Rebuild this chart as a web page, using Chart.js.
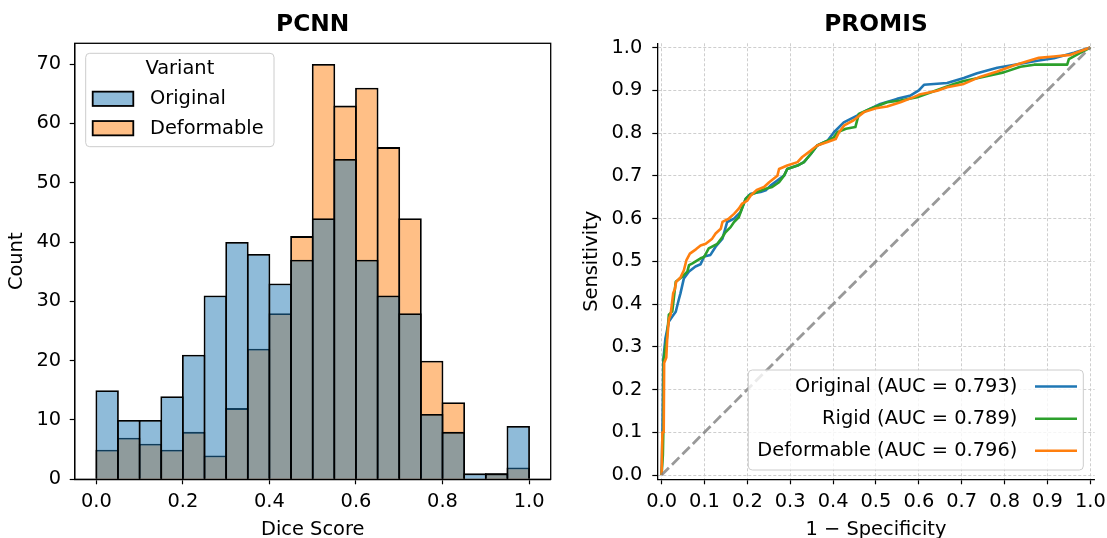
<!DOCTYPE html>
<html>
<head>
<meta charset="utf-8">
<script src="https://cdn.jsdelivr.net/npm/chart.js@4.4.0/dist/chart.umd.min.js"></script>
<style>
html,body{margin:0;padding:0;background:#fff;}
#wrap{position:relative;width:1107px;height:538px;overflow:hidden;background:#fff;}
#c1{position:absolute;left:0;top:0;width:560px;height:538px;}
#c2{position:absolute;left:560px;top:0;width:547px;height:538px;}
</style>
</head>
<body>
<div id="wrap">
<canvas id="c1" width="560" height="538"></canvas>
<canvas id="c2" width="547" height="538"></canvas>
</div>
<script>
// ---------------- data: left panel (histogram) ----------------
const histBinCenters = [0.025,0.075,0.125,0.175,0.225,0.275,0.325,0.375,0.425,0.475,0.525,0.575,0.625,0.675,0.725,0.775,0.825,0.875,0.925,0.975];
const histOriginal   = [15,10,10,14,21,31,40,38,33,37,44,54,37,31,28,11,8,1,1,9];
const histDeformable = [5,7,6,5,8,4,12,22,28,41,70,63,66,56,44,20,13,0,1,2];
const histSeriesNames = ['Original','Deformable'];
const histXTickValues = [0,0.2,0.4,0.6,0.8,1.0];
const histXTickLabels = ['0.0','0.2','0.4','0.6','0.8','1.0'];
const histYTickValues = [0,10,20,30,40,50,60,70];
const histYTickLabels = ['0','10','20','30','40','50','60','70'];

// ---------------- data: right panel (ROC) ----------------
const rocTickValues = [0,0.1,0.2,0.3,0.4,0.5,0.6,0.7,0.8,0.9,1.0];
const rocTickLabels = ['0.0','0.1','0.2','0.3','0.4','0.5','0.6','0.7','0.8','0.9','1.0'];
const rocNames = ['Original (AUC = 0.793)','Rigid (AUC = 0.789)','Deformable (AUC = 0.796)'];

const rocOriginalFpr = [0,0.002,0.004,0.009,0.013,0.017,0.025,0.033,0.040,0.044,0.052,0.064,0.079,0.091,0.099,0.114,0.126,0.142,0.153,0.169,0.184,0.196,0.208,0.231,0.243,0.254,0.270,0.286,0.293,0.317,0.332,0.348,0.363,0.387,0.402,0.425,0.456,0.479,0.510,0.549,0.581,0.600,0.612,0.666,0.705,0.736,0.783,0.837,0.876,0.915,0.962,1.0];
const rocOriginalTpr = [0,0.100,0.270,0.320,0.340,0.359,0.371,0.382,0.410,0.425,0.460,0.476,0.488,0.493,0.511,0.515,0.534,0.553,0.592,0.600,0.615,0.646,0.658,0.662,0.666,0.677,0.689,0.701,0.716,0.724,0.732,0.751,0.771,0.782,0.802,0.825,0.841,0.853,0.868,0.880,0.888,0.900,0.913,0.917,0.929,0.940,0.953,0.962,0.969,0.975,0.988,1.0];

const rocRigidFpr = [0,0.003,0.004,0.005,0.009,0.012,0.017,0.025,0.033,0.048,0.060,0.064,0.072,0.091,0.099,0.110,0.130,0.142,0.149,0.161,0.169,0.180,0.196,0.204,0.223,0.243,0.258,0.274,0.286,0.293,0.317,0.332,0.348,0.363,0.387,0.402,0.410,0.430,0.452,0.460,0.487,0.526,0.557,0.596,0.627,0.682,0.705,0.744,0.798,0.837,0.869,0.946,0.950,0.970,1.0];
const rocRigidTpr = [0,0.047,0.100,0.270,0.300,0.316,0.375,0.383,0.452,0.464,0.476,0.491,0.495,0.507,0.510,0.530,0.541,0.557,0.568,0.580,0.592,0.603,0.646,0.654,0.662,0.670,0.674,0.685,0.701,0.716,0.724,0.732,0.751,0.771,0.782,0.790,0.802,0.810,0.814,0.845,0.857,0.872,0.876,0.884,0.895,0.915,0.922,0.930,0.942,0.955,0.960,0.960,0.973,0.984,1.0];

const rocDeformableFpr = [0,0.002,0.005,0.006,0.011,0.013,0.017,0.021,0.027,0.031,0.034,0.044,0.052,0.058,0.066,0.080,0.091,0.103,0.118,0.126,0.138,0.142,0.157,0.169,0.180,0.188,0.200,0.208,0.222,0.239,0.251,0.270,0.274,0.293,0.317,0.328,0.348,0.363,0.387,0.406,0.414,0.426,0.448,0.472,0.500,0.526,0.557,0.588,0.604,0.643,0.666,0.705,0.744,0.783,0.821,0.853,0.880,0.915,0.954,1.0];
const rocDeformableTpr = [0,0.100,0.100,0.262,0.275,0.317,0.365,0.375,0.425,0.435,0.452,0.462,0.479,0.503,0.518,0.528,0.537,0.541,0.553,0.565,0.576,0.592,0.600,0.611,0.623,0.635,0.642,0.654,0.667,0.674,0.685,0.700,0.716,0.724,0.732,0.744,0.759,0.771,0.779,0.786,0.802,0.818,0.830,0.849,0.858,0.862,0.872,0.884,0.891,0.899,0.907,0.915,0.932,0.944,0.958,0.968,0.976,0.979,0.983,1.0];

const chanceX = [0,1];
const chanceY = [0,1];

// ---------------- styling ----------------
const FONT = "'DejaVu Sans', sans-serif";
const BASE = 19.4;
const TITLE = 23.3;
Chart.defaults.font.family = FONT;
Chart.defaults.font.size = BASE;
Chart.defaults.color = '#000';

const C_BLUE = '#1f77b4', C_GREEN = '#2ca02c', C_ORANGE = '#ff7f0e';
const F_BLUE = 'rgba(31,119,180,0.5)', F_ORANGE = 'rgba(255,127,14,0.5)';
const EDGE = 1.8;

function pts(xs, ys){ return xs.map((x,i)=>({x:x, y:ys[i]})); }
function rr(ctx,x,y,w,h,r){
  ctx.beginPath();
  ctx.moveTo(x+r,y); ctx.lineTo(x+w-r,y); ctx.arcTo(x+w,y,x+w,y+r,r);
  ctx.lineTo(x+w,y+h-r); ctx.arcTo(x+w,y+h,x+w-r,y+h,r);
  ctx.lineTo(x+r,y+h); ctx.arcTo(x,y+h,x,y+h-r,r);
  ctx.lineTo(x,y+r); ctx.arcTo(x,y,x+r,y,r); ctx.closePath();
}
function fixTicks(values){ return function(scale){ scale.ticks = values.map(v=>({value:v})); }; }

// ---------------- left chart ----------------
const histFrame = {
  id:'histFrame',
  afterDatasetsDraw(chart){
    const {ctx, chartArea:a} = chart;
    ctx.save(); ctx.strokeStyle='#000'; ctx.lineWidth=1.3;
    ctx.strokeRect(a.left, a.top, a.right-a.left, a.bottom-a.top);
    ctx.restore();
  },
  afterDraw(chart){
    const {ctx, chartArea:a} = chart;
    const x = a.left + 11, y = a.top + 10, w = 188.3, h = 93.4;
    ctx.save();
    rr(ctx,x,y,w,h,4);
    ctx.fillStyle='rgba(255,255,255,0.8)'; ctx.fill();
    ctx.lineWidth=1; ctx.strokeStyle='#cccccc'; ctx.stroke();
    ctx.fillStyle='#000'; ctx.font = BASE+'px '+FONT; ctx.textBaseline='middle';
    ctx.textAlign='center'; ctx.fillText('Variant', x + w/2, y + 16);
    const fills = [F_BLUE, F_ORANGE];
    const rows = [45.5, 74.9];
    ctx.textAlign='left';
    for (let i=0;i<2;i++){
      const cy = y + rows[i];
      ctx.fillStyle = '#fff'; ctx.fillRect(x+7, cy-7.15, 40.6, 14.3);
      ctx.fillStyle = fills[i]; ctx.fillRect(x+7, cy-7.15, 40.6, 14.3);
      ctx.lineWidth=EDGE; ctx.strokeStyle='#000'; ctx.strokeRect(x+7, cy-7.15, 40.6, 14.3);
      ctx.fillStyle='#000'; ctx.fillText(histSeriesNames[i], x+64.3, cy+0.5);
    }
    ctx.restore();
  }
};

new Chart(document.getElementById('c1'), {
  type:'bar',
  data:{
    datasets:[
      {label:histSeriesNames[0], data:pts(histBinCenters, histOriginal), backgroundColor:F_BLUE},
      {label:histSeriesNames[1], data:pts(histBinCenters, histDeformable), backgroundColor:F_ORANGE}
    ]
  },
  options:{
    responsive:false, maintainAspectRatio:false, animation:false, devicePixelRatio:1,
    layout:{padding:{left:0, top:0, right:9.3, bottom:0}},
    datasets:{bar:{grouped:false, barPercentage:1.083, categoryPercentage:1, borderColor:'#000', borderWidth:EDGE, borderSkipped:'start'}},
    plugins:{
      legend:{display:false}, tooltip:{enabled:false},
      title:{display:true, text:'PCNN', fullSize:false, color:'#000', font:{size:TITLE, weight:'bold', lineHeight:1.2}, padding:{top:11, bottom:4.34}}
    },
    scales:{
      x:{type:'linear', min:-0.05, max:1.05, offset:false,
         afterBuildTicks:fixTicks(histXTickValues),
         afterFit(s){ s.height = 58.7; s.paddingLeft = 0; s.paddingRight = 0; },
         ticks:{callback:(v,i)=>histXTickLabels[i], padding:6, maxRotation:0, autoSkip:false, color:'#000', font:{size:BASE}},
         grid:{display:true, drawOnChartArea:false, drawTicks:true, tickLength:5, tickColor:'#000', tickWidth:1.2, offset:false},
         border:{display:true, color:'#000', width:1.3},
         title:{display:true, text:'Dice Score', color:'#000', font:{size:BASE, lineHeight:0.85}, padding:0}
      },
      y:{type:'linear', min:0, max:73.5,
         afterBuildTicks:fixTicks(histYTickValues),
         afterFit(s){ s.width = 74.7; s.paddingTop = 0; s.paddingBottom = 0; },
         ticks:{callback:(v,i)=>histYTickLabels[i], padding:8.5, autoSkip:false, color:'#000', font:{size:BASE}},
         grid:{display:true, drawOnChartArea:false, drawTicks:true, tickLength:5, tickColor:'#000', tickWidth:1.2},
         border:{display:true, color:'#000', width:1.3},
         title:{display:true, text:'Count', color:'#000', font:{size:BASE, lineHeight:1.2}, padding:{top:5, bottom:0}}
      }
    }
  },
  plugins:[histFrame]
});

// ---------------- right chart ----------------
const rocLegend = {
  id:'rocLegend',
  afterDraw(chart){
    const {ctx, chartArea:a} = chart;
    const right = a.right - 11.3, bottom = a.bottom - 9.3, w = 335, h = 100;
    const x = right - w, y = bottom - h;
    ctx.save();
    rr(ctx,x,y,w,h,4);
    ctx.fillStyle='rgba(255,255,255,0.8)'; ctx.fill();
    ctx.lineWidth=1; ctx.strokeStyle='#cccccc'; ctx.stroke();
    ctx.font = BASE+'px '+FONT; ctx.textBaseline='middle'; ctx.textAlign='right';
    const cols = [C_BLUE, C_GREEN, C_ORANGE];
    const rows = [16.5, 48.8, 80.7];
    for (let i=0;i<3;i++){
      const cy = y + rows[i];
      ctx.fillStyle='#000'; ctx.fillText(rocNames[i], right-66, cy);
      ctx.beginPath(); ctx.moveTo(right-48.3, cy); ctx.lineTo(right-6.3, cy);
      ctx.strokeStyle=cols[i]; ctx.lineWidth=2.6; ctx.stroke();
    }
    ctx.restore();
  }
};

const lineBase = {showLine:true, pointRadius:0, pointHoverRadius:0, borderWidth:2.6, tension:0, fill:false, borderJoinStyle:'round', borderCapStyle:'butt'};

new Chart(document.getElementById('c2'), {
  type:'scatter',
  data:{
    datasets:[
      Object.assign({label:rocNames[0], data:pts(rocOriginalFpr, rocOriginalTpr), borderColor:C_BLUE, order:3}, lineBase),
      Object.assign({label:rocNames[1], data:pts(rocRigidFpr, rocRigidTpr), borderColor:C_GREEN, order:2}, lineBase),
      Object.assign({label:rocNames[2], data:pts(rocDeformableFpr, rocDeformableTpr), borderColor:C_ORANGE, order:1}, lineBase),
      {label:'chance', data:pts(chanceX, chanceY), showLine:true, pointRadius:0, borderColor:'rgba(128,128,128,0.8)', borderWidth:2.8, borderDash:[10.3,4.4], order:0}
    ]
  },
  options:{
    responsive:false, maintainAspectRatio:false, animation:false, devicePixelRatio:1,
    layout:{padding:{left:0, top:0, right:12.4, bottom:0}},
    plugins:{
      legend:{display:false}, tooltip:{enabled:false},
      title:{display:true, text:'PROMIS', fullSize:false, color:'#000', font:{size:TITLE, weight:'bold', lineHeight:1.2}, padding:{top:11, bottom:4.34}}
    },
    scales:{
      x:{type:'linear', min:-0.01, max:1.01,
         afterBuildTicks:fixTicks(rocTickValues),
         afterFit(s){ s.height = 58.7; s.paddingLeft = 0; s.paddingRight = 0; },
         ticks:{callback:(v,i)=>rocTickLabels[i], padding:6, maxRotation:0, autoSkip:false, color:'#000', font:{size:BASE}},
         grid:{display:true, drawOnChartArea:true, color:'#c8c8c8', lineWidth:0.9, drawTicks:true, tickLength:5, tickColor:'#000', tickWidth:1.2, tickBorderDash:[]},
         border:{display:true, color:'#000', width:1.3, dash:[3,2]},
         title:{display:true, text:'1 \u2212 Specificity', color:'#000', font:{size:BASE, lineHeight:0.85}, padding:0}
      },
      y:{type:'linear', min:-0.01, max:1.01,
         afterBuildTicks:fixTicks(rocTickValues),
         afterFit(s){ s.width = 97.3; s.paddingTop = 0; s.paddingBottom = 0; },
         ticks:{callback:(v,i)=>rocTickLabels[i], padding:10, autoSkip:false, color:'#000', font:{size:BASE}},
         grid:{display:true, drawOnChartArea:true, color:'#c8c8c8', lineWidth:0.9, drawTicks:true, tickLength:5, tickColor:'#000', tickWidth:1.2, tickBorderDash:[]},
         border:{display:true, color:'#000', width:1.3, dash:[3,2]},
         title:{display:true, text:'Sensitivity', color:'#000', font:{size:BASE, lineHeight:1.2}, padding:{top:20, bottom:0}}
      }
    }
  },
  plugins:[rocLegend]
});
</script>
</body>
</html>
